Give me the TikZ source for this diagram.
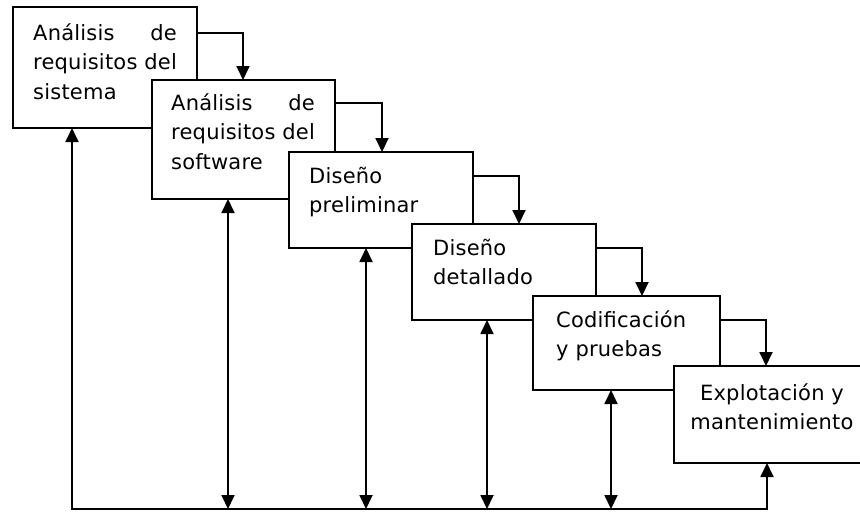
\documentclass[tikz,border=0pt]{standalone}
\usepackage{fontspec}
\usepackage{calc}
\setmainfont{DejaVu Sans}[LetterSpace=1]
\usetikzlibrary{arrows.meta}
\tikzset{
  stage/.style={draw, fill=white, line width=1.8pt, inner sep=0pt, outer sep=0pt, anchor=north west},
  lbl/.style={inner sep=0pt, anchor=base west, font=\fontsize{21}{29.5}\selectfont},
  link/.style={line width=1.8pt, -{Triangle[width=13pt,length=14pt]}},
  both/.style={line width=1.8pt, {Triangle[width=13pt,length=14pt]}-{Triangle[width=13pt,length=14pt]}},
}
\begin{document}
\begin{tikzpicture}[x=1pt,y=-1pt]
\path[use as bounding box, clip] (0,0) rectangle (860,512);
\fill[white] (0,0) rectangle (860,512);
% stages
\node[stage, minimum width=184pt, minimum height=121pt] (b1) at (13,7) {};
\node[stage, minimum width=183pt, minimum height=119pt] (b2) at (152,80) {};
\node[stage, minimum width=184pt, minimum height=96pt] (b3) at (289,152) {};
\node[stage, minimum width=184pt, minimum height=96pt] (b4) at (412,224) {};
\node[stage, minimum width=187pt, minimum height=94pt] (b5) at (533,296) {};
\node[stage, minimum width=206pt, minimum height=97pt] (b6) at (674,366) {};
% labels
\node[lbl] (t1) at (33,40) {\begin{tabular}[t]{@{}l@{}}\makebox[\widthof{requisitos del}][s]{Análisis\hfill de}\\ requisitos del\\ sistema\end{tabular}};
\node[lbl] (t2) at (171,110) {\begin{tabular}[t]{@{}l@{}}\makebox[\widthof{requisitos del}][s]{Análisis\hfill de}\\ requisitos del\\ software\end{tabular}};
\node[lbl] (t3) at (309,183) {\begin{tabular}[t]{@{}l@{}}Diseño\\ preliminar\end{tabular}};
\node[lbl] (t4) at (433,255) {\begin{tabular}[t]{@{}l@{}}Diseño\\ detallado\end{tabular}};
\node[lbl] (t5) at (556,327) {\begin{tabular}[t]{@{}l@{}}Codificación\\ y pruebas\end{tabular}};
\node[lbl, anchor=base] (t6) at (772,400) {\begin{tabular}[t]{@{}c@{}}Explotación y\\ mantenimiento\end{tabular}};
% forward links
\draw[link] ([yshift=-26pt]b1.north east) -| ([xshift=91pt]b2.north west);
\draw[link] ([yshift=-23pt]b2.north east) -| ([xshift=93pt]b3.north west);
\draw[link] ([yshift=-24pt]b3.north east) -| ([xshift=107pt]b4.north west);
\draw[link] ([yshift=-24pt]b4.north east) -| ([xshift=109pt]b5.north west);
\draw[link] ([yshift=-24pt]b5.north east) -| ([xshift=92pt]b6.north west);
% feedback
\coordinate (f1) at (72,509);
\coordinate (f2) at (228,509);
\coordinate (f3) at (366,509);
\coordinate (f4) at (487,509);
\coordinate (f5) at (611,509);
\coordinate (f6) at (767,509);
\draw[both] (f1 |- b1.south) -- (f1) -- (f6) -- (f6 |- b6.south);
\draw[both] (b2.south -| f2) -- (f2);
\draw[both] (b3.south -| f3) -- (f3);
\draw[both] (b4.south -| f4) -- (f4);
\draw[both] (b5.south -| f5) -- (f5);
\end{tikzpicture}
\end{document}
